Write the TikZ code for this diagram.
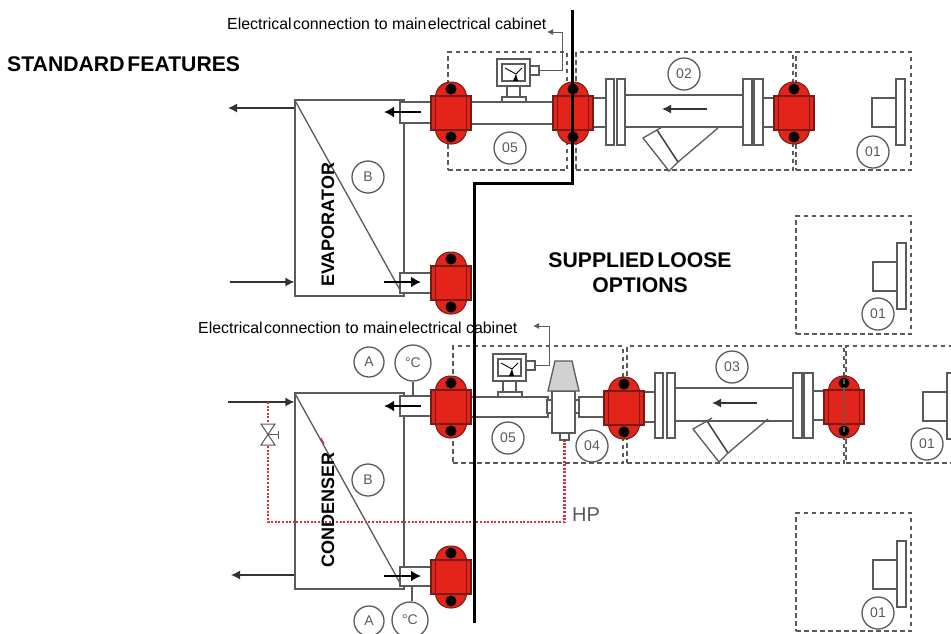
\documentclass[tikz,border=0pt]{standalone}
\usepackage{fontspec}
\setmainfont{Liberation Sans}
\usetikzlibrary{arrows.meta}

\definecolor{linegray}{HTML}{5A5A5A}
\definecolor{clampred}{HTML}{E2241B}
\definecolor{clampedge}{HTML}{7A1A14}
\definecolor{hpred}{HTML}{DC2F3C}

\newcommand{\narrowgap}{\kern-3pt\ }

\tikzset{
 part/.style={draw=linegray,line width=1.3pt,fill=white},
 pipeline/.style={draw=linegray,line width=1.3pt},
 optbox/.style={draw=linegray,line width=1.5pt,dash pattern=on 4.5pt off 3.5pt},
 tag/.style={circle,draw=linegray,line width=1.3pt,minimum size=32pt,inner sep=0pt,text=linegray,font=\fontsize{14}{14}\selectfont},
 flow/.style={draw=black!80,line width=1.3pt,-{Latex[length=9pt,width=9pt]}},
 heavyflow/.style={draw=black,line width=2.4pt,-{Latex[length=10pt,width=11pt]}},
 wire/.style={draw=linegray,line width=0.9pt,-{Latex[length=6pt,width=6pt]}},
 hpline/.style={draw=hpred,line width=2.2pt,dash pattern=on 2pt off 1.6pt},
 earth/.style={draw=black,line width=3pt},
 label/.style={inner sep=0pt,text=black,font=\fontsize{15.9}{16}\selectfont},
 heading/.style={inner sep=0pt,text=black,font=\fontsize{21.2}{25}\selectfont\bfseries,align=center},
 unitname/.style={inner sep=0pt,rotate=90,text=black,font=\fontsize{18}{18}\selectfont\bfseries},
 clamp/.pic={
  \draw[fill=clampred,draw=clampedge,line width=1pt,rounded corners=15pt] (-15.5,-31) rectangle (15.5,31);
  \draw[fill=clampred,draw=clampedge,line width=1.1pt] (-20,-17) rectangle (20,17);
  \draw[clampedge,line width=0.9pt] (-15.5,-17) -- (-15.5,17) (15.5,-17) -- (15.5,17);
  \fill[black] (0,-24) circle (5.5) (0,24) circle (5.5);
 },
 gauge/.pic={
  \draw[part] (33,7) rectangle (42,16);
  \draw[part] (10,27) rectangle (23,38);
  \draw[part] (5,38) rectangle (29,43);
  \draw[part,line width=1.5pt] (0,0) rectangle (33,27);
  \draw[part,line width=1.5pt] (5,5) rectangle (28,22);
  \draw[black,line width=0.9pt] (8,9) -- (19,15) -- (25,9);
  \fill[black] (16,22) -- (19,15) -- (21,22) -- cycle;
  \coordinate (-contact) at (42,11.5);
 },
 strainer/.pic={
  \draw[part] (0,0) -- (14,-8) -- (35,24) -- (26,33) -- cycle;
  \draw[black!75,line width=1.2pt] (14,-8) -- (35,24);
  \draw[pipeline] (35,24) -- (75,-10);
  \draw[pipeline] (14,-8) -- (19,-11);
 },
 endflange/.pic={
  \draw[part] (0,0) rectangle (24,29);
  \draw[part] (24,-19) rectangle (33,47);
 },
}

\begin{document}
\begin{tikzpicture}[x=1pt,y=-1pt]
 \path[use as bounding box,clip] (0,0) rectangle (951,633);

 % option frames
 \node[optbox,minimum width=119pt,minimum height=118pt,inner sep=0pt] (frameA) at (507.5,111) {};
 \node[optbox,minimum width=217pt,minimum height=118pt,inner sep=0pt] (frameB) at (684.5,111) {};
 \node[optbox,minimum width=115pt,minimum height=118pt,inner sep=0pt] (frameC) at (853.5,111) {};
 \node[optbox,minimum width=115pt,minimum height=118pt,inner sep=0pt] (frameD) at (853.5,275) {};
 \node[optbox,minimum width=170pt,minimum height=117pt,inner sep=0pt] (frameE) at (538,404.5) {};
 \node[optbox,minimum width=217pt,minimum height=117pt,inner sep=0pt] (frameF) at (735.5,404.5) {};
 \node[optbox,minimum width=115pt,minimum height=117pt,inner sep=0pt] (frameG) at (903.5,404.5) {};
 \node[optbox,minimum width=115pt,minimum height=118pt,inner sep=0pt] (frameH) at (853.5,572) {};

 % heat exchangers
 \node[part,minimum width=109pt,minimum height=196pt,inner sep=0pt] (evap) at (349.5,198) {};
 \node[part,minimum width=109pt,minimum height=196pt,inner sep=0pt] (cond) at (349.5,491) {};
 \draw[pipeline] (evap.north west) -- (400,290);
 \draw[pipeline] (cond.north west) -- (400,583);
 \draw[hpred,line width=1.2pt] (321,438) -- (324,444);

 % stubs into the exchangers
 \draw[part] (431,102) -- (400,102) -- (400,123) -- (431,123);
 \draw[part] (431,273) -- (400,273) -- (400,293) -- (431,293);
 \draw[part] (431,396) -- (400,396) -- (400,416) -- (431,416);
 \draw[part] (431,567) -- (400,567) -- (400,586) -- (431,586);

 % top line
 \pic (gaugeup) at (497,59) {gauge};
 \draw[part] (471,102) rectangle (553,124);
 \draw[part] (593,98) rectangle (606,127);
 \draw[part] (625,95) rectangle (743,127);
 \pic at (643,138) {strainer};
 \draw[part] (606,79) rectangle (614,145);
 \draw[part] (617,79) rectangle (625,145);
 \draw[part] (743,79) rectangle (752,145);
 \draw[part] (754,79) rectangle (763,145);
 \draw[part] (763,98) rectangle (774,127);
 \coordinate (arrowup) at (662,109);
 \draw[flow] (707,109) -- (arrowup);

 % lower line
 \pic (gaugedown) at (493,354) {gauge};
 \draw[part] (471,397) rectangle (548,417);
 \draw[part] (579,397) rectangle (604,417);
 \draw[part] (547,400) rectangle (552,413);
 \draw[part] (575,400) rectangle (579,413);
 \draw[part] (552,391) rectangle (575,433);
 \draw[part,fill=black!18] (555,361) -- (572,361) -- (579,391) -- (548,391) -- cycle;
 \node[part,minimum width=9pt,minimum height=7pt,inner sep=0pt] (sensor) at (564.5,436.5) {};
 \draw[part] (644,392) rectangle (655,422);
 \draw[part] (675,388) rectangle (793,421);
 \pic at (693,429) {strainer};
 \draw[part] (655,373) rectangle (663,438);
 \draw[part] (667,373) rectangle (675,438);
 \draw[part] (793,373) rectangle (802,438);
 \draw[part] (804,373) rectangle (813,438);
 \draw[part] (813,391) rectangle (824,420);
 \coordinate (arrowdown) at (712,403);
 \draw[flow] (757,403) -- (arrowdown);

 % end pieces
 \pic at (872,98) {endflange};
 \pic at (873,262) {endflange};
 \pic at (923,392) {endflange};
 \pic at (873,560) {endflange};

 % clamps
 \pic at (451,113) {clamp};
 \pic at (573,113) {clamp};
 \pic at (794,113) {clamp};
 \pic at (451,283) {clamp};
 \pic at (451,407) {clamp};
 \pic at (451,577) {clamp};
 \pic at (624,408) {clamp};
 \pic at (844,407) {clamp};
 \draw[optbox] (844,379) -- (844,435);

 % flow through the exchangers
 \coordinate (evapout) at (228,108);
 \coordinate (evapin) at (230,282);
 \coordinate (condin) at (228,402);
 \coordinate (condout) at (231,575);
 \draw[flow] (evapout -| evap.west) -- (evapout);
 \draw[flow] (evapin) -- (evapin -| evap.west);
 \draw[flow] (condin) -- (condin -| cond.west);
 \draw[flow] (condout -| cond.west) -- (condout);
 \draw[heavyflow] (421,112) -- (384,112);
 \draw[heavyflow] (384,282) -- (421,282);
 \draw[heavyflow] (421,406) -- (384,406);
 \draw[heavyflow] (384,576) -- (421,576);

 % bypass valve and HP line
 \coordinate (hpjoint) at (268,402);
 \coordinate (hpleft) at (268,522);
 \coordinate (hpright) at (564.5,522);
 \coordinate (hpvalve) at (268,434.5);
 \draw[hpline] (hpjoint) -- (268,423);
 \draw[hpline] (268,446) -- (hpleft) -- (hpright) -- (sensor.south);
 \draw[pipeline,line width=1pt] (261,424) -- (275,424) -- (hpvalve) -- (261,445) -- (275,445) -- (hpvalve) -- cycle;
 \draw[pipeline,line width=1pt] (hpvalve) -- (278,434.5) (278,430.5) -- (278,438.5);
 \node[inner sep=0pt,text=linegray,font=\fontsize{20}{20}\selectfont] (hp) at (586,514.5) {HP};

 % thermometers
 \node[tag,minimum size=36pt] (tempup) at (413,363) {°C};
 \node[tag,minimum size=36pt] (tempdown) at (410,620) {°C};
 \node[tag,minimum size=30pt] (sideup) at (369,362) {A};
 \node[tag,minimum size=30pt] (sidedown) at (369,621) {A};
 \draw[pipeline] (tempup) -- (tempup |- 0,396);
 \draw[pipeline] (tempdown.north -| 412,0) -- (412,586);

 % number tags
 \node[tag] (tagB) at (368,177) {B};
 \node[tag] (tagBb) at (368,480) {B};
 \node[tag] (tag02) at (684,74) {02};
 \node[tag] (tag05) at (510,148) {05};
 \node[tag] (tag01) at (873,152) {01};
 \node[tag] (tag01b) at (878,314) {01};
 \node[tag] (tag03) at (732,367) {03};
 \node[tag] (tag05b) at (508,438) {05};
 \node[tag] (tag04) at (592,446) {04};
 \node[tag] (tag01c) at (927,444) {01};
 \node[tag] (tag01d) at (878,613) {01};

 % cabinet wiring
 \coordinate (wireup) at (547,32);
 \coordinate (wiredown) at (533,326);
 \draw[wire] (gaugeup-contact) -- (562,70.5) -- (562,32) -- (wireup);
 \draw[wire] (gaugedown-contact) -- (549,365.5) -- (549,326) -- (wiredown);

 % cabinet wall
 \draw[earth] (572,10) -- (572,183) -- (474,183) -- (474,623);

 % texts
 \node[heading,anchor=west] (standard) at (7,64) {STANDARD\narrowgap FEATURES};
 \node[heading] (loose) at (640,273) {SUPPLIED\narrowgap LOOSE\\OPTIONS};
 \node[label,anchor=west] (cabup) at (227,24) {Electrical\narrowgap connection to main\narrowgap electrical cabinet};
 \node[label,anchor=west] (cabdown) at (198,328) {Electrical\narrowgap connection to main\narrowgap electrical cabinet};
 \node[unitname,anchor=west] (evapname) at (328,287) {EVAPORATOR};
 \node[unitname,anchor=west] (condname) at (328,568) {CONDENSER};
\end{tikzpicture}
\end{document}
